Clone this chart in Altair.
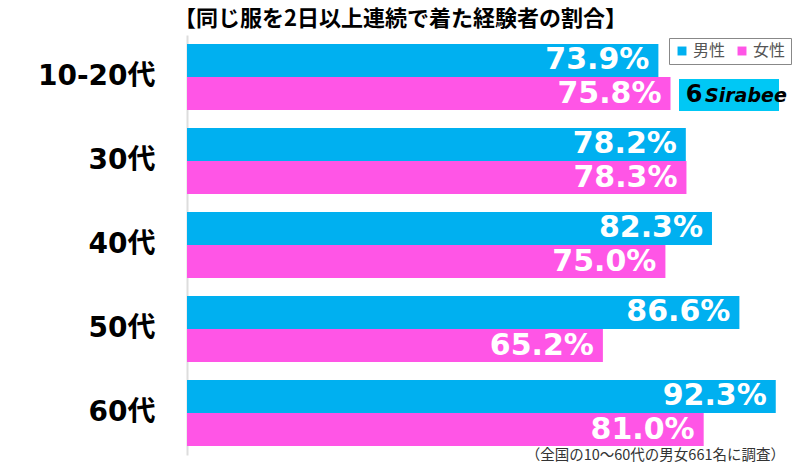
import altair as alt
import pandas as pd

categories = ["10-20代", "30代", "40代", "50代", "60代"]
sexes = ["男性", "女性"]
male = [73.9, 78.2, 82.3, 86.6, 92.3]
female = [75.8, 78.3, 75.0, 65.2, 81.0]
colors = ["#00b0f0", "#ff55e6"]
title_text = "【同じ服を2日以上連続で着た経験者の割合】"
footnote = "（全国の10〜60代の男女661名に調査）"

rows = []
for c, m, f in zip(categories, male, female):
    rows.append({"cat": c, "sex": sexes[0], "val": m})
    rows.append({"cat": c, "sex": sexes[1], "val": f})
df = pd.DataFrame(rows)

JP = "Noto Sans CJK JP"

base = alt.Chart(df).encode(
    y=alt.Y(
        "cat:N",
        sort=categories,
        title=None,
        scale=alt.Scale(paddingInner=0.214, paddingOuter=0.107),
        axis=alt.Axis(
            domain=True, domainColor="#dddddd", domainWidth=2, ticks=False,
            labelFontSize=28, labelFont="DejaVu Sans, " + JP, labelFontWeight="bold",
            labelColor="#000000", labelPadding=32, grid=False,
        ),
    ),
    yOffset=alt.YOffset("sex:N", sort=sexes, scale=alt.Scale(paddingInner=0, paddingOuter=0)),
    x=alt.X("val:Q", scale=alt.Scale(domain=[0, 96.1]), axis=None),
)

bars = base.mark_bar(cornerRadius=0).encode(
    color=alt.Color(
        "sex:N",
        sort=sexes,
        scale=alt.Scale(domain=sexes, range=colors),
        legend=alt.Legend(
            title=None, orient="none", legendX=482, legendY=3, direction="horizontal",
            symbolType="square", symbolSize=80, symbolStrokeWidth=0,
            labelFontSize=16, labelFont=JP, labelColor="#555555",
            strokeColor="#888888", padding=5, columnPadding=8, labelOffset=3,
        ),
    )
)

labels = base.transform_calculate(
    lab="format(datum.val, '.1f') + '%'"
).mark_text(
    align="right", baseline="middle", dx=-9, color="white",
    font="DejaVu Sans", fontWeight="bold", fontSize=30,
).encode(text="lab:N")

logo_df = pd.DataFrame({"t": ["Sirabee"], "i": ["6"]})
logo_rect = alt.Chart(logo_df).mark_rect(color="#00c8f5").encode(
    x=alt.value(492), x2=alt.value(592), y=alt.value(44), y2=alt.value(76)
)
logo_icon = alt.Chart(logo_df).mark_text(
    fontSize=24, fontWeight="bold", font="DejaVu Sans", color="black", baseline="middle", align="center"
).encode(text="i:N", x=alt.value(507), y=alt.value(60))
logo_text = alt.Chart(logo_df).mark_text(
    fontSize=19, fontWeight="bold", fontStyle="italic", font="DejaVu Sans",
    color="black", baseline="middle", align="left"
).encode(text="t:N", x=alt.value(518), y=alt.value(61))

foot = alt.Chart(pd.DataFrame({"t": [footnote]})).mark_text(
    align="right", baseline="middle", fontSize=14.5, font=JP, color="#333333"
).encode(text="t:N", x=alt.value(598), y=alt.value(421))

chart = alt.layer(bars, labels, logo_rect, logo_icon, logo_text, foot).properties(
    width=613,
    height=420,
    title=alt.TitleParams(
        text=title_text, fontSize=22, fontWeight="bold", font=JP, color="#000000",
        anchor="middle", frame="group", dx=-93, offset=4,
    ),
    autosize=alt.AutoSizeParams(type="none"),
    padding={"left": 187, "top": 35, "right": 0, "bottom": 11},
    background="white",
).configure_view(stroke=None)

chart.save("out.html", embed_options={"renderer": "svg", "actions": False})
